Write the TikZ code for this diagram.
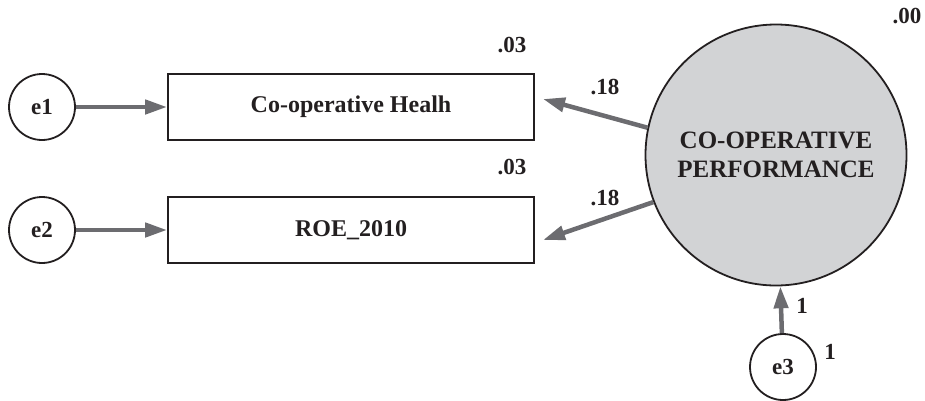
\documentclass[tikz,border=0pt]{standalone}
\usepackage{fontspec}
\setmainfont{Liberation Serif}
\usetikzlibrary{arrows.meta}

\definecolor{pathgray}{RGB}{108,108,112}
\definecolor{latentgray}{RGB}{210,211,213}
\definecolor{inkdark}{RGB}{35,31,32}

\begin{document}
\begin{tikzpicture}[x=1pt,y=-1pt,
    errnode/.style={circle,draw=inkdark,line width=1.8pt,minimum size=66pt,inner sep=0pt,font=\fontsize{23}{28}\selectfont\bfseries},
    obsnode/.style={rectangle,draw=inkdark,line width=1.8pt,minimum width=366pt,minimum height=66pt,inner sep=0pt,font=\fontsize{24}{29}\selectfont\bfseries},
    estlabel/.style={text=inkdark,inner sep=0pt,font=\fontsize{23}{28}\selectfont\bfseries},
    pathline/.style={draw=pathgray,line width=4.5pt,-{Triangle[length=22pt,width=14pt]}}]
        \useasboundingbox (0,0) rectangle (925,400);

        % create latent node
        \node[circle,draw=inkdark,fill=latentgray,line width=1.8pt,minimum size=261pt,inner sep=0pt,align=center,text=inkdark,font=\fontsize{25}{29}\selectfont\bfseries] (perf) at (776,155) {CO-OPERATIVE\\PERFORMANCE};

        % create observed variables
        \node[obsnode,text=inkdark] (health) at (351,107) {Co-operative Healh};
        \node[obsnode,text=inkdark] (roe) at (351,230) {ROE\_2010};

        % create error terms
        \node[errnode,text=inkdark] (e1) at (42,107) {e1};
        \node[errnode,text=inkdark] (e2) at (42,230) {e2};
        \node[errnode,text=inkdark] (e3) at (783,367) {e3};

        % arrow ends in front of the boxes
        \coordinate (healthend) at (543,99);
        \coordinate (roeend) at (543,240);

        % add paths
        \draw[pathline] (e1) -- (health);
        \draw[pathline] (e2) -- (roe);
        \draw[pathline] (perf.168) -- (healthend);
        \draw[pathline] (perf.201) -- (roeend);
        \draw[pathline] (e3) -- (perf);

        % add estimates
        \node[estlabel] (varperf) at (907,16) {.00};
        \node[estlabel] (r2health) at (512,45) {.03};
        \node[estlabel] (r2roe) at (512,167) {.03};
        \node[estlabel] (wthealth) at (605,87) {.18};
        \node[estlabel] (wtroe) at (605,198) {.18};
        \node[estlabel] (wte3) at (802,306) {1};
        \node[estlabel] (vare3) at (830,352) {1};
    \end{tikzpicture}
\end{document}
